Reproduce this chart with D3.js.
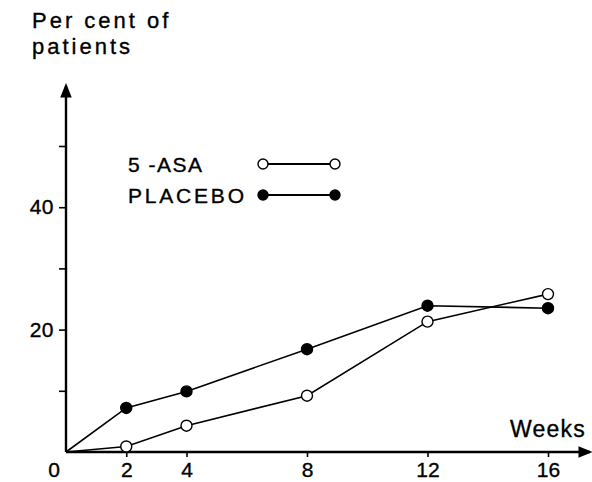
<!DOCTYPE html>
<html>
<head>
<meta charset="utf-8">
<script src="https://cdn.jsdelivr.net/npm/d3@7"></script>
<style>
  body { margin: 0; background: #fff; }
  svg { display: block; font-family: "Liberation Sans", Arial, sans-serif; }
  svg text { fill: #000; stroke: #000; stroke-width: 0.35px; }
</style>
</head>
<body>
<svg id="svg" width="592" height="482"></svg>
<script>
const weeks = [0, 2, 4, 8, 12, 16];
const asa = [0, 0.9, 4.3, 9.2, 21.3, 25.8];
const placebo = [0, 7.2, 9.9, 16.8, 23.9, 23.5];
const xTicks = [2, 4, 8, 12, 16];
const yTicks = [10, 20, 30, 40, 50];
const yLabelled = [20, 40];

const svg = d3.select('#svg');
const x = d3.scaleLinear().domain([0, 16]).range([66, 548]);
const y = d3.scaleLinear().domain([0, 50]).range([452, 146]);
const font = '"Liberation Sans", Arial, sans-serif';

// arrowheads
svg.append('defs').append('marker')
  .attr('id', 'arrow')
  .attr('viewBox', '0 0 10 10')
  .attr('refX', 8).attr('refY', 5)
  .attr('markerWidth', 6).attr('markerHeight', 6)
  .attr('orient', 'auto')
  .append('path').attr('d', 'M0,1 L10,5 L0,9 Z').attr('fill', '#000');

// axis lines
svg.append('line')
  .attr('x1', x(0)).attr('y1', y(0)).attr('x2', 590).attr('y2', y(0))
  .attr('stroke', '#000').attr('stroke-width', 2.4).attr('marker-end', 'url(#arrow)');
svg.append('line')
  .attr('x1', x(0)).attr('y1', y(0)).attr('x2', x(0)).attr('y2', 86)
  .attr('stroke', '#000').attr('stroke-width', 2.4).attr('marker-end', 'url(#arrow)');

const xAxis = svg.append('g')
  .attr('transform', `translate(0,${y(0)})`)
  .call(d3.axisBottom(x).tickValues(xTicks).tickSize(5).tickPadding(5));
xAxis.select('.domain').remove();
xAxis.selectAll('.tick line').attr('stroke-width', 1.6);
xAxis.selectAll('.tick text').attr('font-size', 21).attr('font-family', font);

const yAxis = svg.append('g')
  .attr('transform', `translate(${x(0)},0)`)
  .call(d3.axisLeft(y).tickValues(yTicks).tickSize(7).tickPadding(5)
    .tickFormat(d => yLabelled.includes(d) ? d : ''));
yAxis.select('.domain').remove();
yAxis.selectAll('.tick line').attr('stroke-width', 1.6);
yAxis.selectAll('.tick text').attr('font-size', 21).attr('font-family', font)
  .attr('letter-spacing', 0.5);

svg.append('text').attr('x', 54).attr('y', 477).attr('text-anchor', 'middle')
  .attr('font-size', 21).text('0');

// axis titles
svg.append('text').attr('x', 32).attr('y', 28).attr('font-size', 22)
  .attr('letter-spacing', 3).text('Per cent of');
svg.append('text').attr('x', 32).attr('y', 54).attr('font-size', 22)
  .attr('letter-spacing', 3).text('patients');
svg.append('text').attr('x', 510).attr('y', 437)
  .attr('font-size', 23).attr('letter-spacing', 1.2).text('Weeks');

// series
const series = [
  { name: '5 -ASA', values: asa, fill: '#fff' },
  { name: 'PLACEBO', values: placebo, fill: '#000' }
];
const line = d3.line().x((d, i) => x(weeks[i])).y(d => y(d));

series.forEach(s => {
  svg.append('path').datum(s.values)
    .attr('d', line).attr('fill', 'none')
    .attr('stroke', '#000').attr('stroke-width', 1.6);
  svg.selectAll(null).data(s.values.slice(1)).enter().append('circle')
    .attr('cx', (d, i) => x(weeks[i + 1])).attr('cy', d => y(d))
    .attr('r', 5.5).attr('fill', s.fill)
    .attr('stroke', '#000').attr('stroke-width', 1.4);
});

// legend
series.forEach((s, i) => {
  const ly = 164 + i * 31;
  svg.append('text').attr('x', 128).attr('y', ly + 8).attr('font-size', 21)
    .attr('letter-spacing', i === 0 ? 1.5 : 2.8).text(s.name);
  svg.append('line').attr('x1', 263).attr('x2', 335).attr('y1', ly).attr('y2', ly)
    .attr('stroke', '#000').attr('stroke-width', 1.8);
  [263, 335].forEach(cx => {
    svg.append('circle').attr('cx', cx).attr('cy', ly).attr('r', 5)
      .attr('fill', s.fill).attr('stroke', '#000').attr('stroke-width', 1.4);
  });
});
</script>
</body>
</html>
